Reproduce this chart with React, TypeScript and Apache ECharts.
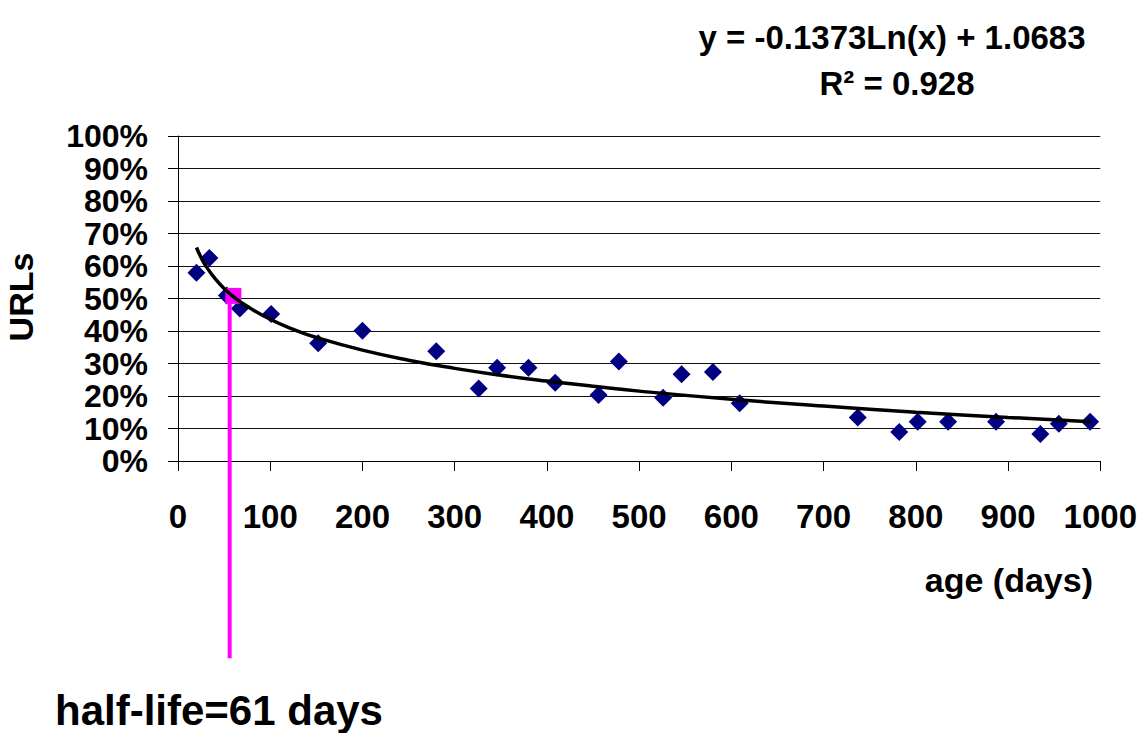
import React, { useEffect, useRef } from "react";
import * as echarts from "echarts";

// observed points: [age in days, share of URLs still alive]
const ageDays = [20, 34, 53, 67, 101, 152, 200, 280, 326, 346, 380, 409, 456, 478, 526, 546, 580, 609, 737, 782, 802, 835, 887, 935, 955, 989];
const urlShare = [0.579, 0.625, 0.509, 0.469, 0.452, 0.362, 0.401, 0.338, 0.223, 0.287, 0.287, 0.241, 0.203, 0.306, 0.195, 0.267, 0.274, 0.178, 0.134, 0.089, 0.121, 0.121, 0.121, 0.083, 0.115, 0.121];

// logarithmic trend line as drawn
const trendAge = [20, 25, 30, 40, 50, 60, 75, 100, 125, 150, 200, 250, 300, 350, 400, 450, 500, 600, 700, 800, 900, 990];
const trendShare = [0.657, 0.626, 0.601, 0.562, 0.531, 0.506, 0.476, 0.436, 0.405, 0.38, 0.341, 0.31, 0.285, 0.264, 0.246, 0.23, 0.215, 0.19, 0.169, 0.15, 0.134, 0.121];

// half-life marker
const halfLifeMarker = [60, 0.508];
const halfLifeLineAge = 56;
const halfLifeLineShare = [0.5, -0.607];

const xTicks = [0, 100, 200, 300, 400, 500, 600, 700, 800, 900, 1000];
const yTickLabels = ["0%", "10%", "20%", "30%", "40%", "50%", "60%", "70%", "80%", "90%", "100%"];

const equationText = "y = -0.1373Ln(x) + 1.0683";
const r2Text = "R\u00b2 = 0.928";
const halfLifeText = "half-life=61 days";
const xAxisTitle = "age (days)";
const yAxisTitle = "URLs";

const FONT = "'Liberation Sans', Arial, Helvetica, sans-serif";

export default function App() {
  const ref = useRef<HTMLDivElement>(null);
  useEffect(() => {
    if (!ref.current) return;
    const chart = echarts.init(ref.current, null, { renderer: "svg" });
    const option: any = {
      animation: false,
      backgroundColor: "#ffffff",
      grid: { left: 178, right: 39, top: 136, bottom: 272, containLabel: false },
      xAxis: {
        type: "value",
        min: xTicks[0],
        max: xTicks[xTicks.length - 1],
        interval: 100,
        axisLine: { show: true, lineStyle: { color: "#000", width: 1 } },
        axisTick: { show: true, length: 10, lineStyle: { color: "#000" } },
        splitLine: { show: false },
        axisLabel: {
          margin: 39,
          fontSize: 33,
          fontWeight: "bold",
          fontFamily: FONT,
          color: "#000",
          showMinLabel: true,
          showMaxLabel: true,
          formatter: (v: number) => String(v),
        },
      },
      yAxis: {
        type: "value",
        min: 0,
        max: 1,
        interval: 0.1,
        axisLine: { show: true, lineStyle: { color: "#000", width: 1 } },
        axisTick: { show: true, length: 10, lineStyle: { color: "#000" } },
        splitLine: { show: true, lineStyle: { color: "#111", width: 1 } },
        axisLabel: {
          margin: 30,
          fontSize: 32,
          lineHeight: 30,
          fontWeight: "bold",
          fontFamily: FONT,
          color: "#000",
          showMinLabel: true,
          showMaxLabel: true,
          hideOverlap: false,
          formatter: (v: number) => yTickLabels[Math.round(v * 10)] ?? "",
        },
      },
      series: [
        {
          type: "scatter",
          data: ageDays.map((a, i) => [a, urlShare[i]]),
          symbol: "diamond",
          symbolSize: 18,
          itemStyle: { color: "#000080", opacity: 1 },
          z: 2,
        },
        {
          type: "line",
          data: halfLifeLineShare.map((s) => [halfLifeLineAge, s]),
          symbol: "none",
          clip: false,
          lineStyle: { color: "#ff00ff", width: 4 },
          z: 3,
        },
        {
          type: "scatter",
          data: [halfLifeMarker],
          symbol: "rect",
          symbolSize: 16,
          itemStyle: { color: "#ff00ff", opacity: 1 },
          z: 3,
        },
        {
          type: "line",
          data: trendAge.map((a, i) => [a, trendShare[i]]),
          symbol: "none",
          smooth: true,
          lineStyle: { color: "#000", width: 3.5 },
          z: 4,
        },
      ],
      graphic: [
        {
          type: "text",
          x: 892,
          y: 37,
          style: {
            text: equationText,
            font: `bold 33px ${FONT}`,
            fill: "#000",
            align: "center",
            verticalAlign: "middle",
          },
        },
        {
          type: "text",
          x: 897,
          y: 83,
          style: {
            text: r2Text,
            font: `bold 33px ${FONT}`,
            fill: "#000",
            align: "center",
            verticalAlign: "middle",
          },
        },
        {
          type: "text",
          x: 1093,
          y: 580,
          style: {
            text: xAxisTitle,
            font: `bold 34px ${FONT}`,
            fill: "#000",
            align: "right",
            verticalAlign: "middle",
          },
        },
        {
          type: "text",
          x: 21,
          y: 297,
          rotation: Math.PI / 2,
          style: {
            text: yAxisTitle,
            font: `bold 34px ${FONT}`,
            fill: "#000",
            align: "center",
            verticalAlign: "middle",
          },
        },
        {
          type: "text",
          x: 55,
          y: 710,
          style: {
            text: halfLifeText,
            font: `bold 42px ${FONT}`,
            fill: "#000",
            align: "left",
            verticalAlign: "middle",
          },
        },
      ],
    };
    chart.setOption(option);
    return () => chart.dispose();
  }, []);
  return (
    <div
      ref={ref}
      style={{ position: "fixed", left: 0, top: 0, width: 1140, height: 733 }}
    />
  );
}
